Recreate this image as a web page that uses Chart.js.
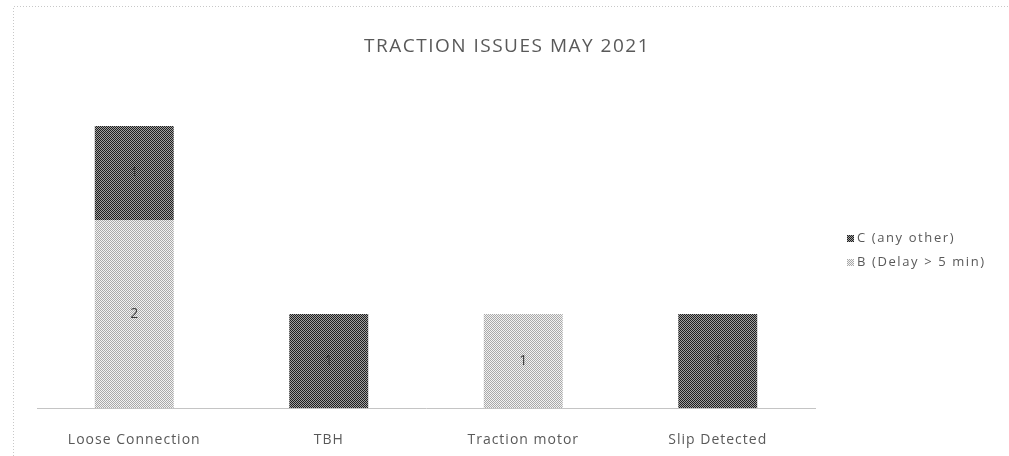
<!DOCTYPE html>
<html>
<head>
<meta charset="utf-8">
<script src="https://cdn.jsdelivr.net/npm/chart.js@4/dist/chart.umd.min.js"></script>
<style>
  html, body { margin: 0; padding: 0; background: #fff; }
  #wrap { width: 1009px; height: 456px; }
</style>
</head>
<body>
<div id="wrap"><canvas id="chart" width="1009" height="456"></canvas></div>
<script>
const titleText = 'TRACTION ISSUES MAY 2021';
const categories = ['Loose Connection', 'TBH', 'Traction motor', 'Slip Detected'];
const seriesNames = ['B (Delay > 5 min)', 'C (any other)'];
const delayB = [2, null, 1, null];
const otherC = [1, 1, null, 1];

// 2x2 checker to mimic the dithered fills
function checker(a, b) {
    const c = document.createElement('canvas');
    c.width = 2; c.height = 2;
    const g = c.getContext('2d');
    g.fillStyle = a; g.fillRect(0, 0, 2, 2);
    g.fillStyle = b; g.fillRect(0, 0, 1, 1); g.fillRect(1, 1, 1, 1);
    return g.createPattern(c, 'repeat');
}

const ctx = document.getElementById('chart').getContext('2d');
const lightFill = checker('#f2f2f2', '#a9a9a9');
const darkFill = checker('#a0a0a0', '#1e1e1e');

const decor = {
    id: 'decor',
    beforeDraw(chart) {
        // the reference text is widely spaced
        chart.ctx.letterSpacing = '1px';
    },
    afterDraw(chart) {
        const c = chart.ctx;
        c.save();
        // dotted chart frame
        c.strokeStyle = '#c8c8c8';
        c.lineWidth = 1;
        c.setLineDash([1, 2]);
        c.beginPath();
        c.moveTo(13.5, 456);
        c.lineTo(13.5, 6.5);
        c.lineTo(1009, 6.5);
        c.stroke();
        c.setLineDash([]);

        // title
        c.fillStyle = '#595959';
        c.textAlign = 'center';
        c.textBaseline = 'middle';
        c.letterSpacing = '1.5px';
        c.font = '19px "Open Sans"';
        c.fillText(titleText, 507, 47);

        // value labels in the middle of each segment
        c.letterSpacing = '0px';
        c.font = '14px "Open Sans"';
        c.fillStyle = '#3a3a3a';
        chart.data.datasets.forEach((ds, i) => {
            chart.getDatasetMeta(i).data.forEach((bar, j) => {
                const v = ds.data[j];
                if (!v) return;
                c.fillText(String(v), bar.x, (bar.y + bar.base) / 2);
            });
        });

        // legend, last series on top
        c.textAlign = 'left';
        c.letterSpacing = '1.6px';
        c.font = '13px "Open Sans"';
        const items = chart.data.datasets.slice().reverse();
        items.forEach((ds, k) => {
            const y = 238 + k * 24;
            c.fillStyle = ds.backgroundColor;
            c.fillRect(847, y - 3, 7, 7);
            c.fillStyle = '#595959';
            c.fillText(ds.label, 857, y);
        });
        c.restore();
        c.letterSpacing = '0px';
    }
};

new Chart(ctx, {
    type: 'bar',
    data: {
        labels: categories,
        datasets: [
            { label: seriesNames[0], data: delayB, backgroundColor: lightFill },
            { label: seriesNames[1], data: otherC, backgroundColor: darkFill }
        ]
    },
    options: {
        responsive: false,
        animation: false,
        layout: { padding: { left: 37, right: 194, top: 79, bottom: 0 } },
        plugins: {
            legend: { display: false },
            title: { display: false },
            tooltip: { enabled: false }
        },
        datasets: {
            bar: { categoryPercentage: 0.406, barPercentage: 1 }
        },
        scales: {
            x: {
                stacked: true,
                grid: { display: false },
                border: { display: true, color: '#c4c4c4', dash: [1, 2] },
                ticks: { color: '#595959', font: { family: 'Open Sans', size: 14 }, padding: 16 },
                afterFit: s => { s.height = 48; }
            },
            y: {
                stacked: true,
                display: false,
                min: 0,
                max: 3.5
            }
        }
    },
    plugins: [decor]
});
</script>
</body>
</html>
